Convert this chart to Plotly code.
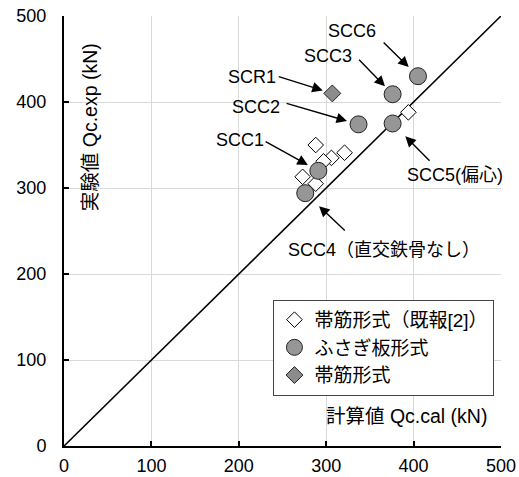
import plotly.graph_objects as go

# ---- data ----
prev_x = [288, 306, 321, 273, 288, 297, 394]   # 帯筋形式(既報[2]) Qc.cal
prev_y = [350, 335, 341, 313, 305, 331, 388]   # Qc.exp

scc_names = ["SCC1", "SCC2", "SCC3", "SCC4", "SCC5", "SCC6"]
scc_x = [291, 337, 376, 276, 376, 405]
scc_y = [320, 374, 409, 294, 375, 430]

scr_names = ["SCR1"]
scr_x = [307]
scr_y = [410]

diag = [0, 500]
ticks = [0, 100, 200, 300, 400, 500]

legend_names = ["帯筋形式（既報[2]）", "ふさぎ板形式", "帯筋形式"]

FONT = "Liberation Sans, Arial, Noto Sans CJK JP, sans-serif"

fig = go.Figure()

fig.add_trace(go.Scatter(x=diag, y=diag, mode="lines",
                         line=dict(color="black", width=1.6),
                         showlegend=False, hoverinfo="skip"))

fig.add_trace(go.Scatter(x=prev_x, y=prev_y, mode="markers", name=legend_names[0],
                         marker=dict(symbol="diamond", size=12, color="white",
                                     line=dict(color="black", width=1))))
fig.add_trace(go.Scatter(x=scc_x, y=scc_y, mode="markers", name=legend_names[1],
                         text=scc_names,
                         marker=dict(symbol="circle", size=17, color="#969696",
                                     line=dict(color="#222222", width=1))))
fig.add_trace(go.Scatter(x=scr_x, y=scr_y, mode="markers", name=legend_names[2],
                         text=scr_names,
                         marker=dict(symbol="diamond", size=13, color="#8c8c8c",
                                     line=dict(color="#222222", width=1))))

# label text positions (layout) and arrow tails, per labelled specimen
labels = {
    # name: (text, text_x, text_y, xanchor, tail_x, tail_y, standoff)
    "SCC6": ("SCC6", 330, 483, "center", 364, 471, 13),
    "SCC3": ("SCC3", 302, 454, "center", 336, 451, 11),
    "SCR1": ("SCR1", 215, 429, "center", 244, 430, 10),
    "SCC2": ("SCC2", 220, 394, "center", 253, 399, 12),
    "SCC1": ("SCC1", 201, 356, "center", 229, 355, 12),
    "SCC5": ("SCC5(偏心)", 390, 315, "left", 420, 330, 18),
    "SCC4": ("SCC4（直交鉄骨なし）", 254, 228, "left", 323, 249, 19),
}

annotations = []
for name, (txt, tx, ty, xa, ax, ay, so) in labels.items():
    if name in scc_names:
        i = scc_names.index(name)
        px, py = scc_x[i], scc_y[i]
    else:
        i = scr_names.index(name)
        px, py = scr_x[i], scr_y[i]
    annotations.append(dict(x=px, y=py, xref="x", yref="y", ax=ax, ay=ay,
                            axref="x", ayref="y", text="", showarrow=True,
                            arrowhead=2, arrowsize=1.5, arrowwidth=1.4,
                            arrowcolor="black", standoff=so))
    annotations.append(dict(x=tx, y=ty, xref="x", yref="y", text=txt,
                            showarrow=False, xanchor=xa, yanchor="middle",
                            font=dict(family=FONT, size=18, color="black")))

annotations.append(dict(x=0.595, y=0.07, xref="paper", yref="paper",
                        text="計算値 Qc.cal (kN)", showarrow=False,
                        xanchor="left", yanchor="middle",
                        font=dict(family=FONT, size=19.5, color="black")))
annotations.append(dict(x=0.06, y=0.742, xref="paper", yref="paper",
                        text="実験値 Qc.exp (kN)", showarrow=False, textangle=-90,
                        xanchor="center", yanchor="middle",
                        font=dict(family=FONT, size=19.5, color="black")))

axis_common = dict(range=[0, 500], tickvals=ticks, ticktext=[str(t) for t in ticks],
                   showgrid=True, gridcolor="#d9d9d9", gridwidth=1,
                   zeroline=False, showline=True, linecolor="black", linewidth=2,
                   ticks="inside", ticklen=5, tickcolor="black", tickwidth=1.5,
                   tickfont=dict(family=FONT, size=18, color="black"),
                   ticklabeloverflow="allow",
                   automargin=False, fixedrange=True)

fig.update_layout(
    width=519, height=477,
    margin=dict(l=64, r=18, t=16, b=31, autoexpand=False),
    paper_bgcolor="white", plot_bgcolor="white",
    xaxis=dict(**axis_common, ticklabelstandoff=2),
    yaxis=dict(**axis_common, ticklabelstandoff=12),
    showlegend=True,
    legend=dict(x=0.985, y=0.34, xanchor="right", yanchor="top",
                bgcolor="white", bordercolor="#444444", borderwidth=1,
                font=dict(family=FONT, size=19, color="black"),
                itemwidth=30, tracegroupgap=0),
    annotations=annotations,
)

# remove the default 8px page margin so the figure fills the window exactly
fig.write_html("out.html",
               config={"displayModeBar": False},
               post_script="document.body.style.margin='0px';"
                           "document.body.style.overflow='hidden';")
